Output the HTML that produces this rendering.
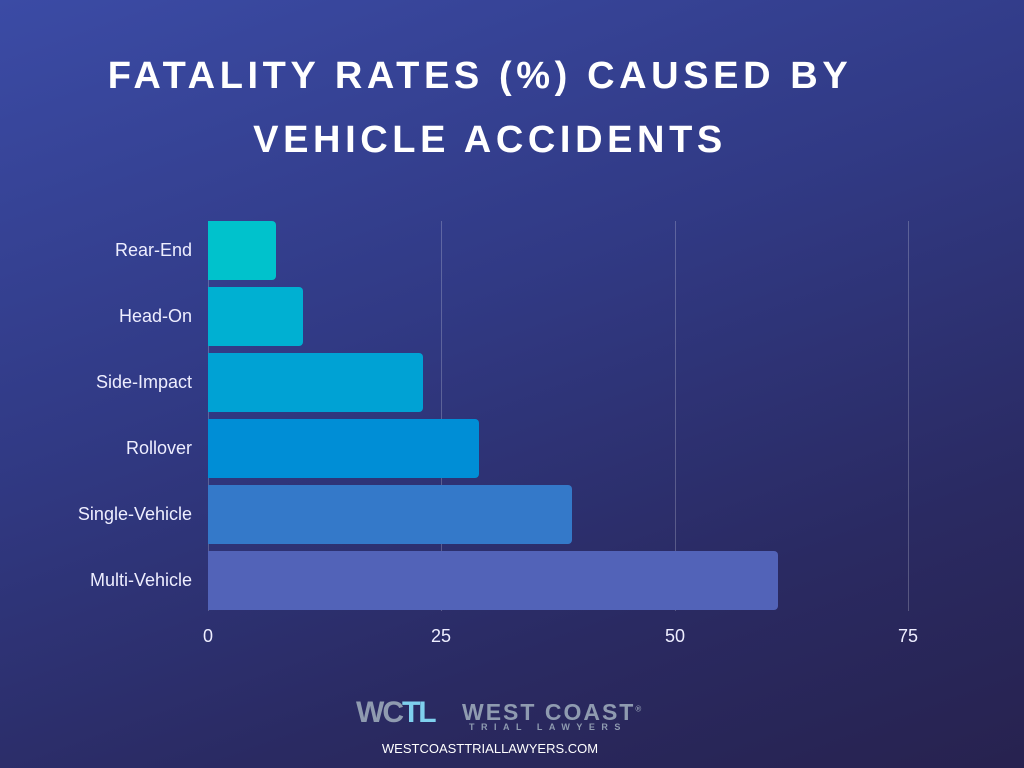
<!DOCTYPE html>
<html><head><meta charset="utf-8"><style>
body{margin:0;width:1024px;height:768px;overflow:hidden;background:linear-gradient(160deg,#3b4ba5 0%,#313a85 40%,#2a2a62 75%,#27224f 100%);font-family:"Liberation Sans",sans-serif;color:#fff;position:relative}
.t{position:absolute;left:0;width:960px;text-align:center;font-weight:bold;font-size:38px;letter-spacing:4.6px;line-height:1}
.lab{position:absolute;right:832px;font-size:18px;color:#eef;text-align:right;white-space:nowrap}
.bar{position:absolute;left:208px;height:59px;border-radius:0 4px 4px 0}
.g{position:absolute;top:221px;height:390px;width:1px;background:rgba(255,255,255,0.22)}
.tk{position:absolute;top:626px;font-size:18px;color:#eef;width:60px;text-align:center}
</style></head><body>
<div class="t" style="top:57px">FATALITY RATES (%) CAUSED BY</div>
<div class="t" style="top:121px;width:980px">VEHICLE ACCIDENTS</div>
<div class="g" style="left:208px"></div>
<div class="g" style="left:441px"></div>
<div class="g" style="left:675px"></div>
<div class="g" style="left:908px"></div>
<div class="bar" style="top:221px;width:68px;background:#00c2cc"></div>
<div class="bar" style="top:287px;width:95px;background:#00b0d2"></div>
<div class="bar" style="top:353px;width:215px;background:#00a2d4"></div>
<div class="bar" style="top:419px;width:271px;background:#008ed6"></div>
<div class="bar" style="top:485px;width:364px;background:#3479c9"></div>
<div class="bar" style="top:551px;width:570px;background:#5263b8"></div>
<div class="lab" style="top:240px">Rear-End</div>
<div class="lab" style="top:306px">Head-On</div>
<div class="lab" style="top:372px">Side-Impact</div>
<div class="lab" style="top:438px">Rollover</div>
<div class="lab" style="top:504px">Single-Vehicle</div>
<div class="lab" style="top:570px">Multi-Vehicle</div>
<div class="tk" style="left:178px">0</div>
<div class="tk" style="left:411px">25</div>
<div class="tk" style="left:645px">50</div>
<div class="tk" style="left:878px">75</div>
<div style="position:absolute;left:356px;top:696px;font-size:30px;font-weight:bold;color:#8f9bb0;letter-spacing:-2px">WC<span style="color:#7fd0ee">TL</span></div>
<div style="position:absolute;left:462px;top:699px;font-size:23px;font-weight:bold;color:#8f9bb0;letter-spacing:2px">WEST COAST<sup style="font-size:8px">®</sup></div>
<div style="position:absolute;left:469px;top:722px;font-size:9px;font-weight:bold;color:#8f9bb0;letter-spacing:6.5px">TRIAL LAWYERS</div>
<div style="position:absolute;left:0;width:980px;top:741px;text-align:center;font-size:13px;color:#fff">WESTCOASTTRIALLAWYERS.COM</div>
</body></html>
